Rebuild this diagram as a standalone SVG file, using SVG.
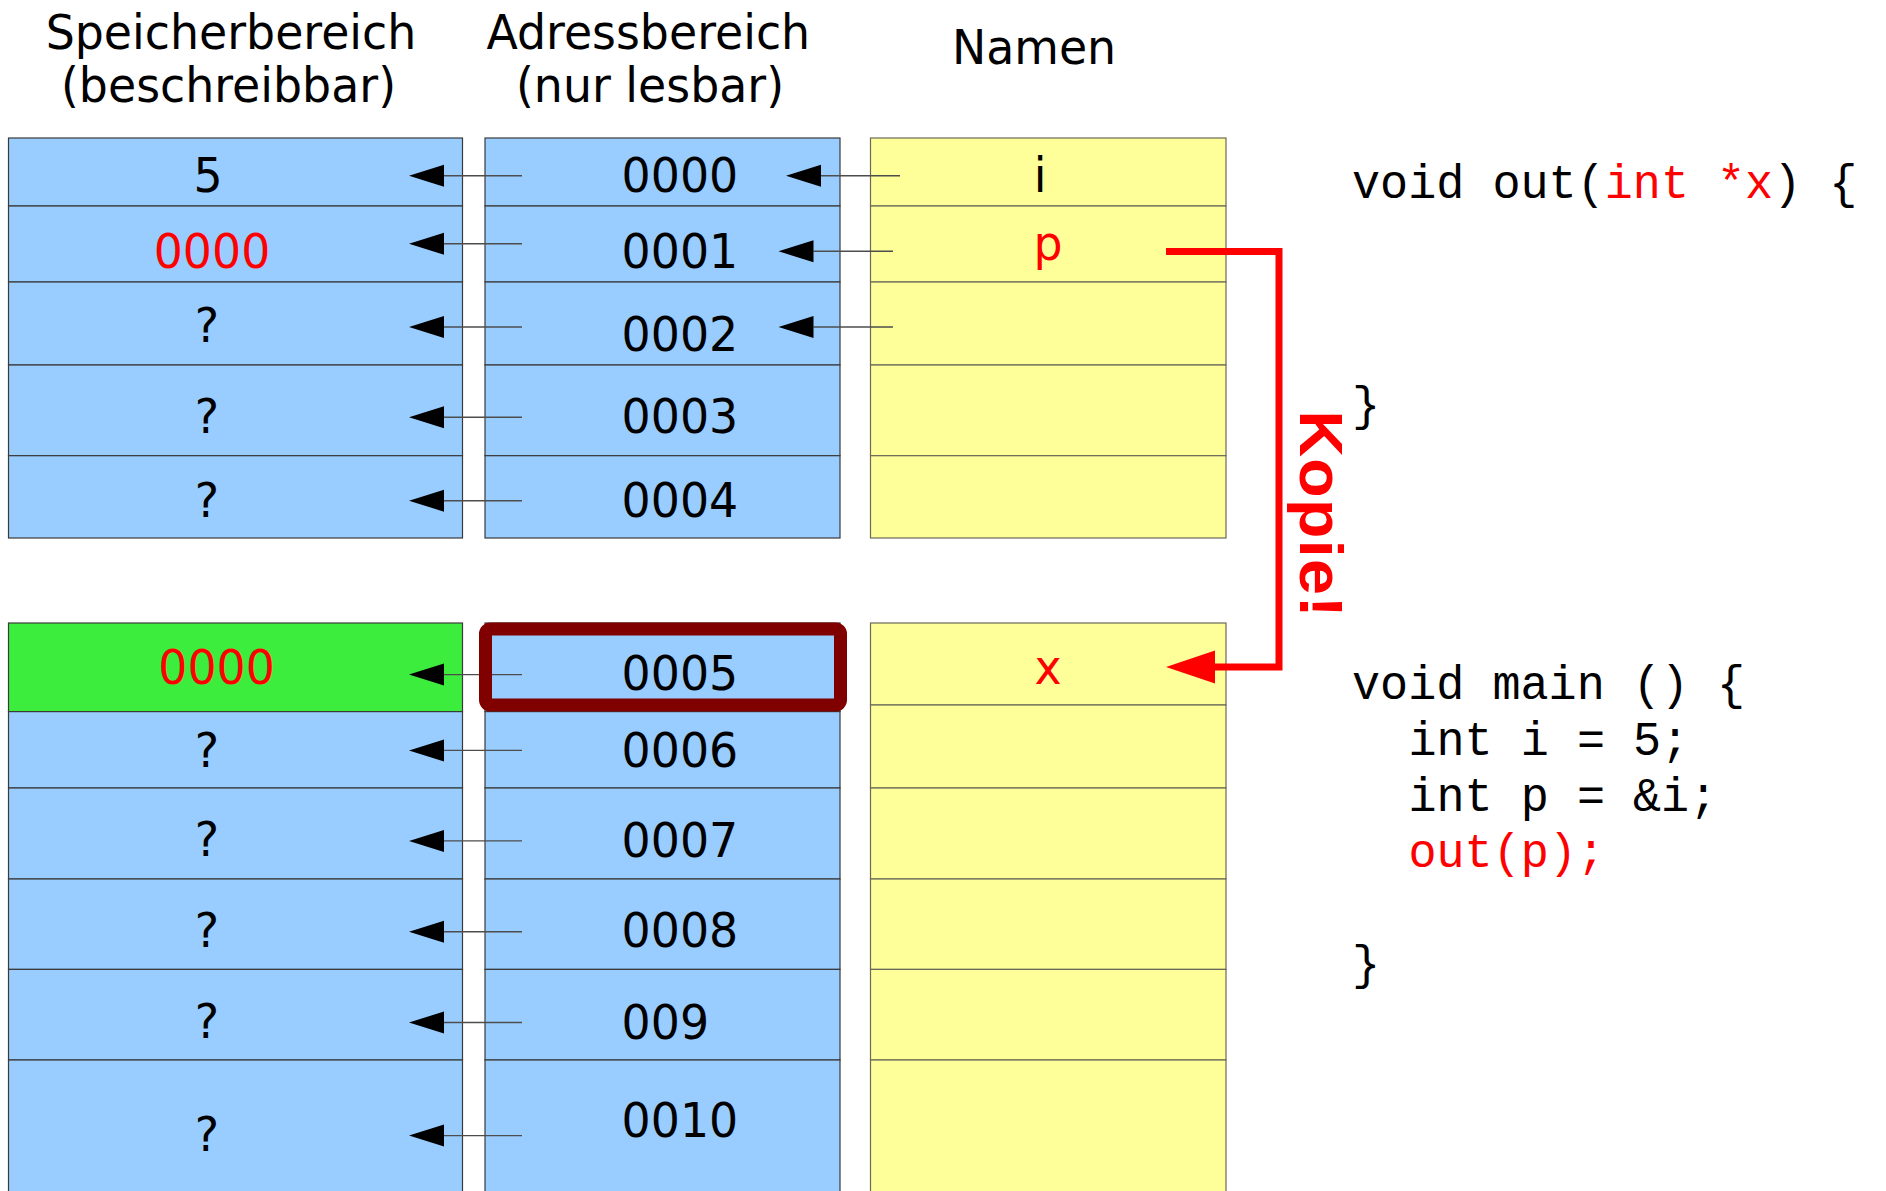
<svg xmlns="http://www.w3.org/2000/svg" width="1886" height="1191" viewBox="0 0 1886 1191">
<style>
.t{font-family:"DejaVu Sans","Liberation Sans",sans-serif;font-size:48px;fill:#000}
.m{text-anchor:middle}
.blue{fill:#99ccff;stroke:#3a3a3a;stroke-width:1.2}
.yel{fill:#ffff99;stroke:#6a6a5a;stroke-width:1.2}
.grn{fill:#3ded3d;stroke:#3a3a3a;stroke-width:1.2}
.code{font-family:"Liberation Mono","DejaVu Sans Mono",monospace;font-size:49px;fill:#000}
.ln{stroke:#4d4d4d;stroke-width:1.4;fill:none;marker-end:url(#ah)}
.kop{font-family:"Liberation Sans","Arial",sans-serif;font-weight:bold;font-size:64.5px;letter-spacing:1.3px;fill:#ff0000}
.r{fill:#ff0000}
</style>
<defs>
<marker id="ah" markerUnits="userSpaceOnUse" markerWidth="36" markerHeight="24" viewBox="0 0 36 24" refX="0" refY="12" orient="auto"><path d="M0,1 L35,12 L0,23 Z" fill="#000"/></marker>
<marker id="rah" markerUnits="userSpaceOnUse" markerWidth="50" markerHeight="34" viewBox="0 0 50 34" refX="0" refY="17" orient="auto"><path d="M0,0.5 L49,17 L0,33.5 Z" fill="#ff0000"/></marker>
</defs>
<rect width="1886" height="1191" fill="#fff"/>
<g id="headers">
<text class="t m" transform="matrix(.955 0 0 1 231 0)" x="0" y="49">Speicherbereich</text>
<text class="t m" transform="matrix(.955 0 0 1 228.5 0)" x="0" y="102">(beschreibbar)</text>
<text class="t m" transform="matrix(.955 0 0 1 648.3 0)" x="0" y="49">Adressbereich</text>
<text class="t m" transform="matrix(.955 0 0 1 650 0)" x="0" y="102">(nur lesbar)</text>
<text class="t m" transform="matrix(.955 0 0 1 1034 0)" x="0" y="64">Namen</text>
</g>
<g id="speicher-oben">
<g id="s0"><rect class="blue" x="8.5" y="138" width="454" height="68"/><text class="t m" transform="matrix(.955 0 0 1 208 0)" x="0" y="191.7">5</text></g>
<g id="s1"><rect class="blue" x="8.5" y="206" width="454" height="76"/><text class="t m r" transform="matrix(.955 0 0 1 212 0)" x="0" y="267.7">0000</text></g>
<g id="s2"><rect class="blue" x="8.5" y="282" width="454" height="83"/><text class="t m" transform="matrix(.955 0 0 1 207 0)" x="0" y="342.3">?</text></g>
<g id="s3"><rect class="blue" x="8.5" y="365" width="454" height="90.7"/><text class="t m" transform="matrix(.955 0 0 1 207 0)" x="0" y="433.3">?</text></g>
<g id="s4"><rect class="blue" x="8.5" y="455.7" width="454" height="82.3"/><text class="t m" transform="matrix(.955 0 0 1 207 0)" x="0" y="516.7">?</text></g>
</g>
<g id="adresse-oben">
<g id="a0"><rect class="blue" x="485" y="138" width="355" height="68"/><text class="t" transform="matrix(.955 0 0 1 621.6 0)" x="0" y="191.7">0000</text></g>
<g id="a1"><rect class="blue" x="485" y="206" width="355" height="76"/><text class="t" transform="matrix(.955 0 0 1 621.6 0)" x="0" y="267.7">0001</text></g>
<g id="a2"><rect class="blue" x="485" y="282" width="355" height="83"/><text class="t" transform="matrix(.955 0 0 1 621.6 0)" x="0" y="350.7">0002</text></g>
<g id="a3"><rect class="blue" x="485" y="365" width="355" height="90.7"/><text class="t" transform="matrix(.955 0 0 1 621.6 0)" x="0" y="433.3">0003</text></g>
<g id="a4"><rect class="blue" x="485" y="455.7" width="355" height="82.3"/><text class="t" transform="matrix(.955 0 0 1 621.6 0)" x="0" y="516.7">0004</text></g>
</g>
<g id="namen-oben">
<g id="n0"><rect class="yel" x="870.5" y="138" width="355.5" height="68"/><text class="t m" transform="matrix(.955 0 0 1 1040 0)" x="0" y="192">i</text></g>
<g id="n1"><rect class="yel" x="870.5" y="206" width="355.5" height="76"/><text class="t m r" transform="matrix(.955 0 0 1 1048 0)" x="0" y="260">p</text></g>
<g id="n2"><rect class="yel" x="870.5" y="282" width="355.5" height="83"/></g>
<g id="n3"><rect class="yel" x="870.5" y="365" width="355.5" height="90.7"/></g>
<g id="n4"><rect class="yel" x="870.5" y="455.7" width="355.5" height="82.3"/></g>
</g>
<g id="speicher-unten">
<g id="s5"><rect class="grn" x="8.5" y="623" width="454" height="88.6"/><text class="t m r" transform="matrix(.955 0 0 1 216.6 0)" x="0" y="683.7">0000</text></g>
<g id="s6"><rect class="blue" x="8.5" y="711.6" width="454" height="76.4"/><text class="t m" transform="matrix(.955 0 0 1 207 0)" x="0" y="767">?</text></g>
<g id="s7"><rect class="blue" x="8.5" y="788" width="454" height="91"/><text class="t m" transform="matrix(.955 0 0 1 207 0)" x="0" y="856.3">?</text></g>
<g id="s8"><rect class="blue" x="8.5" y="879" width="454" height="90.4"/><text class="t m" transform="matrix(.955 0 0 1 207 0)" x="0" y="946.8">?</text></g>
<g id="s9"><rect class="blue" x="8.5" y="969.4" width="454" height="90.6"/><text class="t m" transform="matrix(.955 0 0 1 207 0)" x="0" y="1038.4">?</text></g>
<g id="s10"><rect class="blue" x="8.5" y="1060" width="454" height="140"/><text class="t m" transform="matrix(.955 0 0 1 207 0)" x="0" y="1151.5">?</text></g>
</g>
<g id="adresse-unten">
<g id="a5"><rect class="blue" x="485" y="623" width="355" height="88.6"/><text class="t" transform="matrix(.955 0 0 1 621.6 0)" x="0" y="690.5">0005</text></g>
<g id="a6"><rect class="blue" x="485" y="711.6" width="355" height="76.4"/><text class="t" transform="matrix(.955 0 0 1 621.6 0)" x="0" y="767">0006</text></g>
<g id="a7"><rect class="blue" x="485" y="788" width="355" height="91"/><text class="t" transform="matrix(.955 0 0 1 621.6 0)" x="0" y="857.4">0007</text></g>
<g id="a8"><rect class="blue" x="485" y="879" width="355" height="90.4"/><text class="t" transform="matrix(.955 0 0 1 621.6 0)" x="0" y="947.5">0008</text></g>
<g id="a9"><rect class="blue" x="485" y="969.4" width="355" height="90.6"/><text class="t" transform="matrix(.955 0 0 1 621.6 0)" x="0" y="1039">009</text></g>
<g id="a10"><rect class="blue" x="485" y="1060" width="355" height="140"/><text class="t" transform="matrix(.955 0 0 1 621.6 0)" x="0" y="1137">0010</text></g>
</g>
<g id="namen-unten">
<g id="n5"><rect class="yel" x="870.5" y="623" width="355.5" height="82"/><text class="t m r" transform="matrix(.955 0 0 1 1048 0)" x="0" y="684">x</text></g>
<g id="n6"><rect class="yel" x="870.5" y="705" width="355.5" height="83"/></g>
<g id="n7"><rect class="yel" x="870.5" y="788" width="355.5" height="91"/></g>
<g id="n8"><rect class="yel" x="870.5" y="879" width="355.5" height="90.4"/></g>
<g id="n9"><rect class="yel" x="870.5" y="969.4" width="355.5" height="90.6"/></g>
<g id="n10"><rect class="yel" x="870.5" y="1060" width="355.5" height="140"/></g>
</g>
<g id="connectors">
<line class="ln" x1="522" y1="175.7" x2="444" y2="175.7"/>
<line class="ln" x1="522" y1="243.7" x2="444" y2="243.7"/>
<line class="ln" x1="522" y1="327" x2="444" y2="327"/>
<line class="ln" x1="522" y1="417.3" x2="444" y2="417.3"/>
<line class="ln" x1="522" y1="500.7" x2="444" y2="500.7"/>
<line class="ln" x1="522" y1="674.6" x2="444" y2="674.6"/>
<line class="ln" x1="522" y1="750.4" x2="444" y2="750.4"/>
<line class="ln" x1="522" y1="840.9" x2="444" y2="840.9"/>
<line class="ln" x1="522" y1="931.7" x2="444" y2="931.7"/>
<line class="ln" x1="522" y1="1022.5" x2="444" y2="1022.5"/>
<line class="ln" x1="522" y1="1135.6" x2="444" y2="1135.6"/>
<line class="ln" x1="900" y1="175.8" x2="821" y2="175.8"/>
<line class="ln" x1="893" y1="251.3" x2="813.5" y2="251.3"/>
<line class="ln" x1="893" y1="327" x2="813.5" y2="327"/>
<polyline points="1166,251.6 1279,251.6 1279,667 1215,667" fill="none" stroke="#ff0000" stroke-width="7" marker-end="url(#rah)"/>
</g>
<g id="highlight">
<rect x="485.5" y="629" width="355" height="76" rx="5" fill="none" stroke="#800000" stroke-width="13"/>
</g>
<g id="kopie-label">
<text class="kop" transform="translate(1300,410.5) scale(0.955,1) rotate(90)">Kopie!</text>
</g>
<g id="code-out">
<text class="code" transform="matrix(.955 0 0 1 1352 0)" x="0" y="198">void out(<tspan class="r">int *x</tspan>) {</text>
<text class="code" transform="matrix(.955 0 0 1 1352 0)" x="0" y="420">}</text>
</g>
<g id="code-main">
<text class="code" transform="matrix(.955 0 0 1 1352 0)" x="0" y="699">void main () {</text>
<text class="code" transform="matrix(.955 0 0 1 1408.4 0)" x="0" y="755">int i = 5;</text>
<text class="code" transform="matrix(.955 0 0 1 1408.4 0)" x="0" y="811">int p = &amp;i;</text>
<text class="code r" transform="matrix(.955 0 0 1 1408.4 0)" x="0" y="867">out(p);</text>
<text class="code" transform="matrix(.955 0 0 1 1352 0)" x="0" y="979">}</text>
</g>
</svg>
